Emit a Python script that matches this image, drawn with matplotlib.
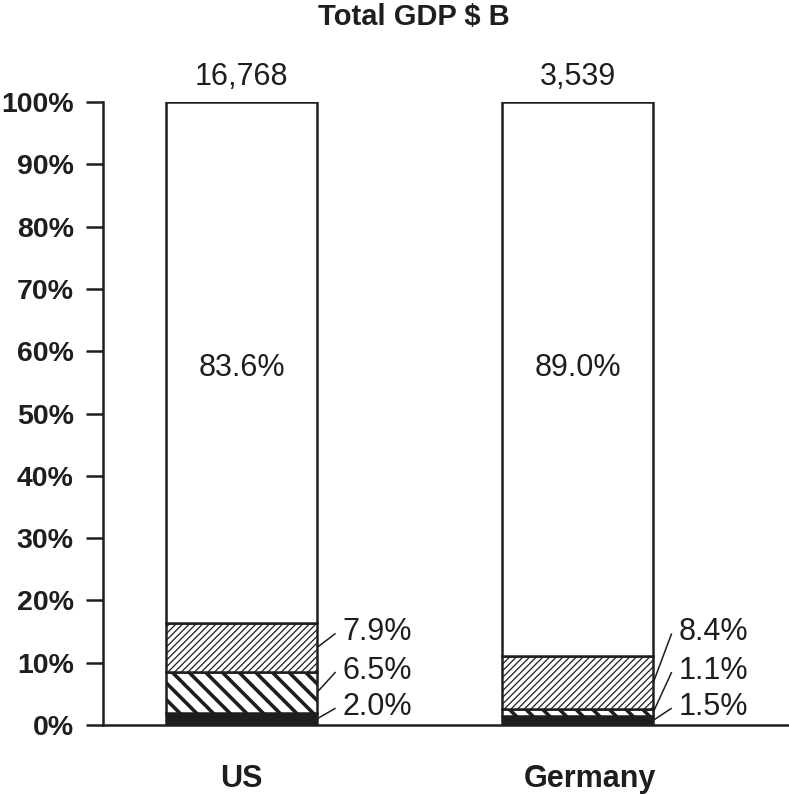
import numpy as np
import matplotlib
matplotlib.use("Agg")
import matplotlib.pyplot as plt

plt.rcParams['font.family'] = ['Liberation Sans', 'DejaVu Sans']

# data
countries = ['US', 'Germany']
totals = ['16,768', '3,539']
seg_black = [2.0, 1.5]
seg_back = [6.5, 1.1]
seg_fwd = [7.9, 8.4]
seg_rest = [83.6, 89.0]
yticks = np.arange(0, 101, 10)

ink = '#1e1e1e'
x = np.arange(len(countries))
w = 0.45

fig = plt.figure(figsize=(7.89, 7.94), dpi=100)
ax = fig.add_axes([103/789, 69/794, 686/789, 623/794])

b0 = np.zeros(len(x))
b1 = b0 + np.array(seg_black)
b2 = b1 + np.array(seg_back)
b3 = b2 + np.array(seg_fwd)

ax.bar(x, seg_black, w, bottom=b0, color=ink, edgecolor=ink, linewidth=1.8)
with plt.rc_context({'hatch.linewidth': 2.6, 'hatch.color': ink}):
    ax.bar(x, seg_back, w, bottom=b1, color='white', edgecolor=ink,
           linewidth=1.8, hatch='\\' * 2)
with plt.rc_context({'hatch.linewidth': 0.9, 'hatch.color': ink}):
    ax.bar(x, seg_fwd, w, bottom=b2, color='white', edgecolor=ink,
           linewidth=1.8, hatch='/' * 5)
ax.bar(x, seg_rest, w, bottom=b3, color='white', edgecolor=ink, linewidth=1.8)

# labels of the big white part
for xi, v in zip(x, seg_rest):
    ax.text(xi, 57.3, f'{v:.1f}%', ha='center', va='center', fontsize=22, color=ink)

# totals on top
for xi, t in zip(x, totals):
    ax.text(xi, 104, t, ha='center', va='center', fontsize=22, color=ink, clip_on=False)

# small segment labels with leader lines
label_y = [2.9, 8.7, 14.9]
for i, xi in enumerate(x):
    vals = [seg_black[i], seg_back[i], seg_fwd[i]]
    mids = [b0[i] + vals[0] / 2, b1[i] + vals[1] / 2, b2[i] + vals[2] / 2]
    for v, m, ly in zip(vals, mids, label_y):
        ax.plot([xi + w / 2, xi + 0.28], [m, ly - 0.2], color=ink, lw=1.1,
                solid_capstyle='butt', clip_on=False)
        ax.text(xi + 0.30, ly, f'{v:.1f}%', ha='left', va='center',
                fontsize=22, color=ink)

ax.set_xlim(-0.412, 1.629)
ax.set_ylim(0, 100)
ax.set_yticks(yticks)
ax.set_yticklabels([f'{t}%' for t in yticks], fontsize=20.5, fontweight='bold', color=ink)
# category names sit a little off-centre in the original
ax.set_xticks(x + np.array([0.0, 0.036]))
ax.set_xticklabels(countries, fontsize=22, fontweight='bold', color=ink)
ax.tick_params(axis='y', direction='out', length=12, width=1.8, pad=9, color=ink)
ax.tick_params(axis='x', length=0, pad=28)
for s in ['top', 'right']:
    ax.spines[s].set_visible(False)
for s in ['left', 'bottom']:
    ax.spines[s].set_linewidth(1.8)
    ax.spines[s].set_color(ink)

fig.text(414/789, 1 - 17/794, 'Total GDP $ B', ha='center', va='center',
         fontsize=21, fontweight='bold', color=ink)

fig.savefig('out.png', dpi=100)
